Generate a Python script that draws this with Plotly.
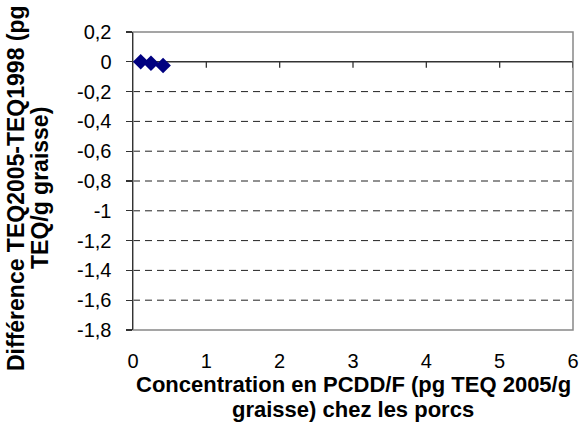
import plotly.graph_objects as go

x_vals = [0.105, 0.245, 0.41]
y_vals = [0.0, -0.01, -0.025]
y_ticks = [0.2, 0, -0.2, -0.4, -0.6, -0.8, -1, -1.2, -1.4, -1.6, -1.8]
y_tick_text = ["0,2", "0", "-0,2", "-0,4", "-0,6", "-0,8", "-1", "-1,2", "-1,4", "-1,6", "-1,8"]
x_ticks = [0, 1, 2, 3, 4, 5, 6]
x_title_lines = ["Concentration en PCDD/F (pg TEQ 2005/g", "graisse) chez les porcs"]
y_title_lines = ["Différence TEQ2005-TEQ1998 (pg", "TEQ/g graisse)"]

W, H = 587, 448
L, R, T, B = 133, 14, 32, 118

fig = go.Figure()
fig.add_trace(go.Scatter(
    x=x_vals, y=y_vals, mode="markers",
    marker=dict(symbol="diamond", size=12, color="#000080"),
    showlegend=False, cliponaxis=False, hoverinfo="skip",
))

# dashed gridlines
for v in y_ticks:
    if v in (0, 0.2, -1.8):
        continue
    fig.add_shape(type="line", xref="paper", yref="y", x0=0, x1=1, y0=v, y1=v,
                  line=dict(color="#222222", width=1, dash="7px,5px"), layer="below")
# solid zero line (x axis crossing)
fig.add_shape(type="line", xref="paper", yref="y", x0=0, x1=1, y0=0, y1=0,
              line=dict(color="#333333", width=1.5), layer="below")
# x ticks on the zero line
for t in x_ticks[1:]:
    fig.add_shape(type="line", xref="x", yref="y", x0=t, x1=t, y0=0, y1=-0.04,
                  line=dict(color="#333333", width=1.3), layer="below")
# border (gray)
fig.add_shape(type="rect", xref="paper", yref="paper", x0=0, x1=1, y0=0, y1=1,
              line=dict(color="#888888", width=1.5), layer="below")

tick_font = dict(family="Arial, Liberation Sans, sans-serif", size=20, color="black")
x_title_font = dict(family="Arial, Liberation Sans, sans-serif", size=22, color="black")
y_title_font = dict(family="Arial, Liberation Sans, sans-serif", size=23, color="black")

fig.update_layout(
    width=W, height=H,
    margin=dict(l=L, r=R, t=T, b=B),
    paper_bgcolor="white", plot_bgcolor="white",
    font=tick_font,
    xaxis=dict(
        range=[0, 6], tickvals=x_ticks, ticks="outside", ticklen=13, tickcolor="rgba(0,0,0,0)",
        showgrid=False, zeroline=False, showline=False,
        tickfont=tick_font, automargin=False, fixedrange=True,
    ),
    yaxis=dict(
        range=[-1.8, 0.2], tickvals=y_ticks, ticktext=y_tick_text,
        ticks="outside", ticklen=6, tickcolor="#333333", tickwidth=1.3,
        ticklabelstandoff=10,
        showgrid=False, zeroline=False,
        showline=True, linecolor="#333333", linewidth=1.5,
        tickfont=tick_font, automargin=False, fixedrange=True,
    ),
)

# axis titles as annotations (one per line for exact placement)
x_center = (L + (W - R)) / 2
for txt, ypix in zip(x_title_lines, [384, 409]):
    fig.add_annotation(text="<b>" + txt + "</b>", xref="paper", yref="paper",
                       x=(x_center - L) / (W - L - R),
                       y=(H - B - ypix) / (H - T - B),
                       showarrow=False, font=x_title_font, xanchor="center", yanchor="middle")
y_center = 188
for txt, xpix in zip(y_title_lines, [16, 40]):
    fig.add_annotation(text="<b>" + txt + "</b>", xref="paper", yref="paper",
                       x=(xpix - L) / (W - L - R),
                       y=(H - B - y_center) / (H - T - B),
                       textangle=-90, showarrow=False, font=y_title_font,
                       xanchor="center", yanchor="middle")

fig.write_html("out.html", config={"displayModeBar": False, "staticPlot": True},
               post_script="document.body.style.margin='0';")
